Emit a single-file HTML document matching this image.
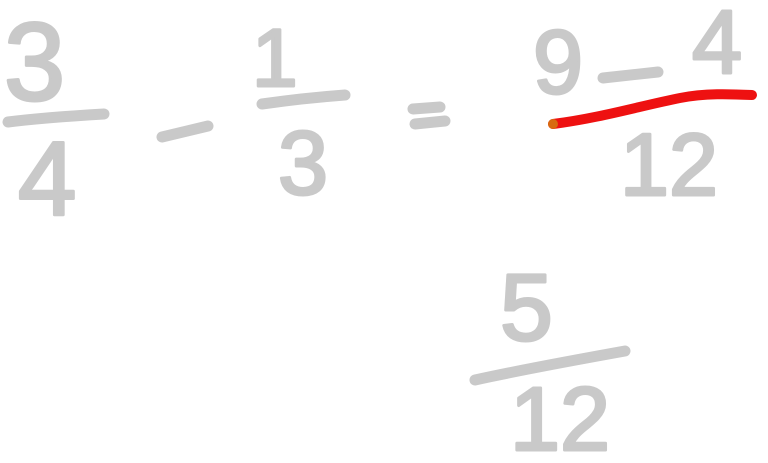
<!DOCTYPE html>
<html>
<head>
<meta charset="utf-8">
<style>
  html,body{margin:0;padding:0;background:#fff;}
  svg{display:block;}
  text{font-family:"Liberation Sans",sans-serif;fill:#c9c9c9;stroke:#c9c9c9;stroke-width:3;stroke-linejoin:round;}
  .bar{stroke:#c9c9c9;stroke-width:11;stroke-linecap:round;fill:none;}
</style>
</head>
<body>
<svg width="768" height="463" viewBox="0 0 768 463">
  <text x="4" y="100" font-size="110">3</text>
  <path class="bar" d="M8,122 C40,118 70,116 104,114"/>
  <text x="18" y="215" font-size="105">4</text>

  <path class="bar" d="M162,137 L208,126"/>

  <text x="252" y="86" font-size="82">1</text>
  <path class="bar" d="M262,104 C290,100 318,97 345,95"/>
  <text x="278" y="194" font-size="90">3</text>

  <path class="bar" d="M413,109 L440,107"/>
  <path class="bar" d="M415,124 L445,121"/>

  <text x="533" y="93" font-size="90">9</text>
  <path class="bar" d="M603,78 L658,72"/>
  <text x="692" y="73" font-size="90">4</text>
  <path d="M553,124 C600,118 640,106 680,98 C705,93 730,94 752,95" stroke="#ee1111" stroke-width="10" stroke-linecap="round" fill="none"/>
  <circle cx="553" cy="124" r="5" fill="#d86a10"/>
  <text x="620" y="195" font-size="88" stroke-width="2">12</text>

  <text x="500" y="340" font-size="95">5</text>
  <path class="bar" d="M475,380 C520,370 575,360 625,351"/>
  <text x="510" y="450" font-size="90">12</text>
</svg>
</body>
</html>
